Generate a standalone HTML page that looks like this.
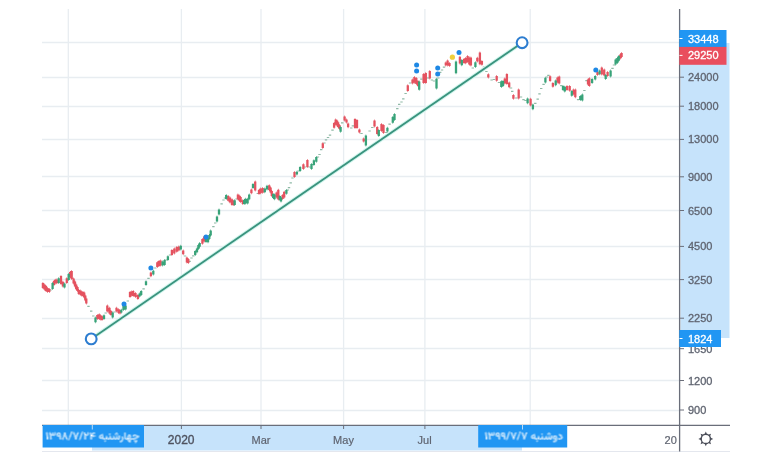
<!DOCTYPE html>
<html><head><meta charset="utf-8"><style>
html,body{margin:0;padding:0;background:#fff;width:767px;height:464px;overflow:hidden}
body{position:relative;font-family:"Liberation Sans",sans-serif}
</style></head><body>
<svg width="767" height="464" viewBox="0 0 767 464" style="position:absolute;left:0;top:0;filter:blur(0.3px)"><path d="M42 42.5H679.5M42 77.5H679.5M42 106.5H679.5M42 139.5H679.5M42 176.5H679.5M42 210.5H679.5M42 246.5H679.5M42 279.5H679.5M42 318.5H679.5M42 348.5H679.5M42 380.5H679.5M42 410.5H679.5M68.3 9V425M181.4 9V425M261 9V425M343.6 9V425M424.9 9V425M530.2 9V425" stroke="#e8edf1" stroke-width="1.3" fill="none"/><rect x="680.5" y="43" width="49" height="295" fill="#c6e3fb"/><rect x="92" y="426" width="430" height="24.5" fill="#c6e3fb"/><path d="M42 451.5H730" stroke="#e4e7ee" stroke-width="1"/><g style="filter:blur(0.35px)"><path d="M49.4 289.4h2.4v1.2h-2.4zM87.3 305.8h2.4v1.2h-2.4zM90.0 310.6h2.4v1.2h-2.4zM92.1 315.4h2.4v1.2h-2.4zM104.5 312.4h2.4v1.2h-2.4zM113.3 311.4h2.4v1.2h-2.4zM126.6 300.4h2.4v1.2h-2.4zM142.4 288.3h2.4v1.2h-2.4zM147.3 277.8h2.4v1.2h-2.4zM154.1 267.4h2.4v1.2h-2.4zM165.1 259.4h2.4v1.2h-2.4zM168.8 254.4h2.4v1.2h-2.4zM183.8 255.4h2.4v1.2h-2.4zM188.4 260.8h2.4v1.2h-2.4zM190.3 257.4h2.4v1.2h-2.4zM192.1 255.3h2.4v1.2h-2.4zM212.2 226.0h2.4v1.2h-2.4zM214.0 222.4h2.4v1.2h-2.4zM220.4 203.2h2.4v1.2h-2.4zM222.3 199.4h2.4v1.2h-2.4zM223.8 197.4h2.4v1.2h-2.4zM235.3 198.4h2.4v1.2h-2.4zM256.6 192.9h2.4v1.2h-2.4zM286.6 189.4h2.4v1.2h-2.4zM287.8 187.0h2.4v1.2h-2.4zM289.5 182.2h2.4v1.2h-2.4zM291.3 177.4h2.4v1.2h-2.4zM297.3 170.4h2.4v1.2h-2.4zM304.0 166.4h2.4v1.2h-2.4zM308.3 166.4h2.4v1.2h-2.4zM316.7 156.4h2.4v1.2h-2.4zM318.3 153.9h2.4v1.2h-2.4zM320.0 149.0h2.4v1.2h-2.4zM323.2 142.4h2.4v1.2h-2.4zM324.8 139.3h2.4v1.2h-2.4zM326.8 136.9h2.4v1.2h-2.4zM328.8 134.5h2.4v1.2h-2.4zM331.3 129.6h2.4v1.2h-2.4zM341.0 122.3h2.4v1.2h-2.4zM350.1 127.4h2.4v1.2h-2.4zM351.7 125.3h2.4v1.2h-2.4zM360.3 132.9h2.4v1.2h-2.4zM368.4 130.4h2.4v1.2h-2.4zM371.1 126.9h2.4v1.2h-2.4zM385.1 131.9h2.4v1.2h-2.4zM388.4 123.6h2.4v1.2h-2.4zM396.1 108.0h2.4v1.2h-2.4zM398.0 103.7h2.4v1.2h-2.4zM400.3 101.4h2.4v1.2h-2.4zM402.1 98.2h2.4v1.2h-2.4zM404.4 92.9h2.4v1.2h-2.4zM408.9 82.4h2.4v1.2h-2.4zM420.2 78.6h2.4v1.2h-2.4zM426.6 77.4h2.4v1.2h-2.4zM430.7 79.4h2.4v1.2h-2.4zM432.8 80.4h2.4v1.2h-2.4zM437.1 77.4h2.4v1.2h-2.4zM439.0 71.8h2.4v1.2h-2.4zM440.8 69.4h2.4v1.2h-2.4zM442.8 66.5h2.4v1.2h-2.4zM471.6 67.4h2.4v1.2h-2.4zM482.8 66.4h2.4v1.2h-2.4zM485.2 70.9h2.4v1.2h-2.4zM490.4 79.4h2.4v1.2h-2.4zM492.8 78.9h2.4v1.2h-2.4zM497.8 81.9h2.4v1.2h-2.4zM509.8 87.4h2.4v1.2h-2.4zM511.0 90.8h2.4v1.2h-2.4zM515.1 97.4h2.4v1.2h-2.4zM519.8 96.4h2.4v1.2h-2.4zM522.3 99.1h2.4v1.2h-2.4zM524.3 99.9h2.4v1.2h-2.4zM534.1 102.7h2.4v1.2h-2.4zM536.5 98.5h2.4v1.2h-2.4zM538.3 93.2h2.4v1.2h-2.4zM540.0 87.9h2.4v1.2h-2.4zM542.4 83.7h2.4v1.2h-2.4zM545.8 76.4h2.4v1.2h-2.4zM547.2 74.8h2.4v1.2h-2.4zM560.1 85.0h2.4v1.2h-2.4zM576.9 99.0h2.4v1.2h-2.4zM583.2 89.9h2.4v1.2h-2.4zM585.3 80.1h2.4v1.2h-2.4zM611.3 67.8h2.4v1.2h-2.4zM612.8 64.4h2.4v1.2h-2.4z" fill="#8fb9a6"/><path d="M41.75 283.1h2.3v4.8h-2.3zM42.60 282.1h0.6v6.8h-0.6zM43.35 284.6h2.3v4.8h-2.3zM44.20 283.6h0.6v6.8h-0.6zM44.85 286.1h2.3v4.8h-2.3zM45.70 285.1h0.6v6.8h-0.6zM46.55 288.1h2.3v3.8h-2.3zM47.40 287.1h0.6v5.8h-0.6zM48.15 289.1h2.3v2.8h-2.3zM49.00 288.1h0.6v4.8h-0.6zM52.85 281.1h2.3v3.8h-2.3zM53.70 280.1h0.6v5.8h-0.6zM54.05 279.7h2.3v3.8h-2.3zM54.90 278.7h0.6v5.8h-0.6zM55.65 279.4h2.3v3.8h-2.3zM56.50 278.4h0.6v5.8h-0.6zM59.85 276.1h2.3v7.8h-2.3zM60.70 275.1h0.6v9.8h-0.6zM61.75 281.8h2.3v4.8h-2.3zM62.60 280.8h0.6v6.8h-0.6zM65.65 278.2h2.3v4.8h-2.3zM66.50 277.2h0.6v6.8h-0.6zM69.05 272.1h2.3v4.8h-2.3zM69.90 271.1h0.6v6.8h-0.6zM70.55 271.1h2.3v7.8h-2.3zM71.40 270.1h0.6v9.8h-0.6zM72.45 278.6h2.3v4.8h-2.3zM73.30 277.6h0.6v6.8h-0.6zM73.85 281.6h2.3v4.8h-2.3zM74.70 280.6h0.6v6.8h-0.6zM75.05 284.4h2.3v4.8h-2.3zM75.90 283.4h0.6v6.8h-0.6zM76.35 287.1h2.3v3.8h-2.3zM77.20 286.1h0.6v5.8h-0.6zM77.65 290.1h2.3v3.8h-2.3zM78.50 289.1h0.6v5.8h-0.6zM79.05 290.6h2.3v3.8h-2.3zM79.90 289.6h0.6v5.8h-0.6zM80.35 291.6h2.3v3.8h-2.3zM81.20 290.6h0.6v5.8h-0.6zM81.85 292.1h2.3v3.8h-2.3zM82.70 291.1h0.6v5.8h-0.6zM83.05 292.6h2.3v4.8h-2.3zM83.90 291.6h0.6v6.8h-0.6zM84.15 295.6h2.3v4.8h-2.3zM85.00 294.6h0.6v6.8h-0.6zM85.15 298.6h2.3v4.8h-2.3zM86.00 297.6h0.6v6.8h-0.6zM96.15 315.1h2.3v3.8h-2.3zM97.00 314.1h0.6v5.8h-0.6zM98.05 314.2h2.3v4.8h-2.3zM98.90 313.2h0.6v6.8h-0.6zM99.45 315.6h2.3v3.8h-2.3zM100.30 314.6h0.6v5.8h-0.6zM100.85 316.3h2.3v3.8h-2.3zM101.70 315.3h0.6v5.8h-0.6zM106.15 305.6h2.3v5.8h-2.3zM107.00 304.6h0.6v7.8h-0.6zM108.35 307.8h2.3v5.8h-2.3zM109.20 306.8h0.6v7.8h-0.6zM109.85 311.1h2.3v3.8h-2.3zM110.70 310.1h0.6v5.8h-0.6zM115.35 307.7h2.3v3.8h-2.3zM116.20 306.7h0.6v5.8h-0.6zM117.45 309.3h2.3v3.8h-2.3zM118.30 308.3h0.6v5.8h-0.6zM118.85 310.6h2.3v2.8h-2.3zM119.70 309.6h0.6v4.8h-0.6zM128.85 292.1h2.3v4.8h-2.3zM129.70 291.1h0.6v6.8h-0.6zM130.45 291.6h2.3v3.8h-2.3zM131.30 290.6h0.6v5.8h-0.6zM132.05 291.1h2.3v4.8h-2.3zM132.90 290.1h0.6v6.8h-0.6zM134.35 293.1h2.3v3.8h-2.3zM135.20 292.1h0.6v5.8h-0.6zM136.75 295.1h2.3v3.8h-2.3zM137.60 294.1h0.6v5.8h-0.6zM149.75 272.4h2.3v3.8h-2.3zM150.60 271.4h0.6v5.8h-0.6zM156.15 262.2h2.3v4.8h-2.3zM157.00 261.2h0.6v6.8h-0.6zM157.85 261.1h2.3v4.8h-2.3zM158.70 260.1h0.6v6.8h-0.6zM159.45 260.6h2.3v4.8h-2.3zM160.30 259.6h0.6v6.8h-0.6zM170.75 250.1h2.3v4.8h-2.3zM171.60 249.1h0.6v6.8h-0.6zM173.15 248.6h2.3v4.8h-2.3zM174.00 247.6h0.6v6.8h-0.6zM175.65 246.9h2.3v4.8h-2.3zM176.50 245.9h0.6v6.8h-0.6zM177.65 246.6h2.3v3.8h-2.3zM178.50 245.6h0.6v5.8h-0.6zM182.05 250.4h2.3v3.8h-2.3zM182.90 249.4h0.6v5.8h-0.6zM185.75 257.6h2.3v4.8h-2.3zM186.60 256.6h0.6v6.8h-0.6zM187.15 259.1h2.3v3.8h-2.3zM188.00 258.1h0.6v5.8h-0.6zM201.25 238.9h2.3v4.8h-2.3zM202.10 237.9h0.6v6.8h-0.6zM203.05 236.6h2.3v4.8h-2.3zM203.90 235.6h0.6v6.8h-0.6zM227.05 196.0h2.3v4.8h-2.3zM227.90 195.0h0.6v6.8h-0.6zM228.85 197.6h2.3v4.8h-2.3zM229.70 196.6h0.6v6.8h-0.6zM230.85 199.3h2.3v5.8h-2.3zM231.70 198.3h0.6v7.8h-0.6zM232.35 201.1h2.3v3.8h-2.3zM233.20 200.1h0.6v5.8h-0.6zM236.75 194.4h2.3v4.8h-2.3zM237.60 193.4h0.6v6.8h-0.6zM238.05 195.6h2.3v4.8h-2.3zM238.90 194.6h0.6v6.8h-0.6zM239.45 197.1h2.3v4.8h-2.3zM240.30 196.1h0.6v6.8h-0.6zM241.65 200.3h2.3v3.8h-2.3zM242.50 199.3h0.6v5.8h-0.6zM250.25 189.5h2.3v3.8h-2.3zM251.10 188.5h0.6v5.8h-0.6zM254.05 181.6h2.3v8.8h-2.3zM254.90 180.6h0.6v10.8h-0.6zM257.85 190.1h2.3v3.8h-2.3zM258.70 189.1h0.6v5.8h-0.6zM259.35 188.4h2.3v4.8h-2.3zM260.20 187.4h0.6v6.8h-0.6zM261.55 187.9h2.3v4.8h-2.3zM262.40 186.9h0.6v6.8h-0.6zM268.05 185.2h2.3v4.8h-2.3zM268.90 184.2h0.6v6.8h-0.6zM269.45 187.6h2.3v4.8h-2.3zM270.30 186.6h0.6v6.8h-0.6zM270.65 191.1h2.3v4.8h-2.3zM271.50 190.1h0.6v6.8h-0.6zM275.35 192.6h2.3v4.8h-2.3zM276.20 191.6h0.6v6.8h-0.6zM277.15 189.7h2.3v9.8h-2.3zM278.00 188.7h0.6v11.8h-0.6zM281.45 195.1h2.3v3.8h-2.3zM282.30 194.1h0.6v5.8h-0.6zM283.05 191.7h2.3v5.8h-2.3zM283.90 190.7h0.6v7.8h-0.6zM293.35 172.1h2.3v4.8h-2.3zM294.20 171.1h0.6v6.8h-0.6zM302.25 164.2h2.3v4.8h-2.3zM303.10 163.2h0.6v6.8h-0.6zM306.25 160.1h2.3v6.8h-2.3zM307.10 159.1h0.6v8.8h-0.6zM321.65 143.2h2.3v4.8h-2.3zM322.50 142.2h0.6v6.8h-0.6zM332.95 123.0h2.3v4.8h-2.3zM333.80 122.0h0.6v6.8h-0.6zM334.55 119.6h2.3v4.8h-2.3zM335.40 118.6h0.6v6.8h-0.6zM335.85 120.6h2.3v4.8h-2.3zM336.70 119.6h0.6v6.8h-0.6zM336.95 122.2h2.3v4.8h-2.3zM337.80 121.2h0.6v6.8h-0.6zM338.35 125.1h2.3v3.8h-2.3zM339.20 124.1h0.6v5.8h-0.6zM343.45 116.6h2.3v3.8h-2.3zM344.30 115.6h0.6v5.8h-0.6zM345.35 119.6h2.3v2.8h-2.3zM346.20 118.6h0.6v4.8h-0.6zM346.95 123.4h2.3v3.8h-2.3zM347.80 122.4h0.6v5.8h-0.6zM353.85 119.1h2.3v8.8h-2.3zM354.70 118.1h0.6v10.8h-0.6zM355.85 120.1h2.3v7.8h-2.3zM356.70 119.1h0.6v9.8h-0.6zM358.25 129.6h2.3v2.8h-2.3zM359.10 128.6h0.6v4.8h-0.6zM362.55 138.6h2.3v2.8h-2.3zM363.40 137.6h0.6v4.8h-0.6zM373.35 120.6h2.3v5.8h-2.3zM374.20 119.6h0.6v7.8h-0.6zM376.05 127.1h2.3v6.8h-2.3zM376.90 126.1h0.6v8.8h-0.6zM380.35 124.1h2.3v6.8h-2.3zM381.20 123.1h0.6v8.8h-0.6zM382.35 125.1h2.3v7.8h-2.3zM383.20 124.1h0.6v9.8h-0.6zM406.65 85.3h2.3v5.8h-2.3zM407.50 84.3h0.6v7.8h-0.6zM411.35 79.6h2.3v3.8h-2.3zM412.20 78.6h0.6v5.8h-0.6zM413.25 76.9h2.3v5.8h-2.3zM414.10 75.9h0.6v7.8h-0.6zM415.15 78.1h2.3v5.8h-2.3zM416.00 77.1h0.6v7.8h-0.6zM416.85 81.1h2.3v4.8h-2.3zM417.70 80.1h0.6v6.8h-0.6zM422.45 74.1h2.3v8.8h-2.3zM423.30 73.1h0.6v10.8h-0.6zM424.65 73.1h2.3v9.8h-2.3zM425.50 72.1h0.6v11.8h-0.6zM428.65 71.1h2.3v7.3h-2.3zM429.50 70.1h0.6v9.3h-0.6zM444.65 62.6h2.3v2.8h-2.3zM445.50 61.6h0.6v4.8h-0.6zM446.45 60.6h2.3v4.8h-2.3zM447.30 59.6h0.6v6.8h-0.6zM448.35 63.1h2.3v2.8h-2.3zM449.20 62.1h0.6v4.8h-0.6zM458.75 56.8h2.3v6.8h-2.3zM459.60 55.8h0.6v8.8h-0.6zM462.85 59.1h2.3v3.8h-2.3zM463.70 58.1h0.6v5.8h-0.6zM464.55 57.9h2.3v5.3h-2.3zM465.40 56.9h0.6v7.3h-0.6zM466.45 56.1h2.3v5.8h-2.3zM467.30 55.1h0.6v7.8h-0.6zM468.15 57.6h2.3v6.8h-2.3zM469.00 56.6h0.6v8.8h-0.6zM469.75 57.6h2.3v7.8h-2.3zM470.60 56.6h0.6v9.8h-0.6zM476.15 57.7h2.3v3.8h-2.3zM477.00 56.7h0.6v5.8h-0.6zM478.75 52.4h2.3v11.8h-2.3zM479.60 51.4h0.6v13.8h-0.6zM480.75 60.9h2.3v3.8h-2.3zM481.60 59.9h0.6v5.8h-0.6zM487.15 74.3h2.3v3.3h-2.3zM488.00 73.3h0.6v5.3h-0.6zM495.55 75.9h2.3v4.8h-2.3zM496.40 74.9h0.6v6.8h-0.6zM503.65 78.6h2.3v4.8h-2.3zM504.50 77.6h0.6v6.8h-0.6zM505.75 74.1h2.3v9.8h-2.3zM506.60 73.1h0.6v11.8h-0.6zM508.05 82.5h2.3v4.8h-2.3zM508.90 81.5h0.6v6.8h-0.6zM512.25 94.9h2.3v3.8h-2.3zM513.10 93.9h0.6v5.8h-0.6zM517.55 89.6h2.3v8.8h-2.3zM518.40 88.6h0.6v10.8h-0.6zM529.45 98.7h2.3v6.8h-2.3zM530.30 97.7h0.6v8.8h-0.6zM548.95 76.2h2.3v4.8h-2.3zM549.80 75.2h0.6v6.8h-0.6zM551.75 83.0h2.3v3.8h-2.3zM552.60 82.0h0.6v5.8h-0.6zM556.35 77.6h2.3v4.8h-2.3zM557.20 76.6h0.6v6.8h-0.6zM558.05 76.6h2.3v6.8h-2.3zM558.90 75.6h0.6v8.8h-0.6zM565.85 86.1h2.3v3.8h-2.3zM566.70 85.1h0.6v5.8h-0.6zM568.55 86.0h2.3v4.8h-2.3zM569.40 85.0h0.6v6.8h-0.6zM572.35 89.6h2.3v4.8h-2.3zM573.20 88.6h0.6v6.8h-0.6zM574.15 89.4h2.3v7.8h-2.3zM575.00 88.4h0.6v9.8h-0.6zM586.85 79.6h2.3v4.8h-2.3zM587.70 78.6h0.6v6.8h-0.6zM588.15 78.2h2.3v7.8h-2.3zM589.00 77.2h0.6v9.8h-0.6zM596.35 72.1h2.3v2.8h-2.3zM597.20 71.1h0.6v4.8h-0.6zM600.65 67.6h2.3v6.8h-2.3zM601.50 66.6h0.6v8.8h-0.6zM603.05 69.6h2.3v5.8h-2.3zM603.90 68.6h0.6v7.8h-0.6zM606.45 72.1h2.3v3.8h-2.3zM607.30 71.1h0.6v5.8h-0.6zM619.15 54.6h2.3v3.8h-2.3zM620.00 53.6h0.6v5.8h-0.6zM620.45 53.1h2.3v3.8h-2.3zM621.30 52.1h0.6v5.8h-0.6z" fill="#e4525f"/><path d="M51.45 283.1h2.3v5.8h-2.3zM52.30 282.1h0.6v7.8h-0.6zM57.55 278.2h2.3v4.8h-2.3zM58.40 277.2h0.6v6.8h-0.6zM63.35 283.6h2.3v3.8h-2.3zM64.20 282.6h0.6v5.8h-0.6zM67.55 274.1h2.3v5.8h-2.3zM68.40 273.1h0.6v7.8h-0.6zM94.35 317.5h2.3v4.8h-2.3zM95.20 316.5h0.6v6.8h-0.6zM102.85 315.3h2.3v3.8h-2.3zM103.70 314.3h0.6v5.8h-0.6zM111.55 312.6h2.3v4.8h-2.3zM112.40 311.6h0.6v6.8h-0.6zM120.15 309.8h2.3v2.8h-2.3zM121.00 308.8h0.6v4.8h-0.6zM122.35 306.1h2.3v3.8h-2.3zM123.20 305.1h0.6v5.8h-0.6zM124.45 305.6h2.3v3.8h-2.3zM125.30 304.6h0.6v5.8h-0.6zM138.45 293.6h2.3v2.8h-2.3zM139.30 292.6h0.6v4.8h-0.6zM140.05 291.1h2.3v3.8h-2.3zM140.90 290.1h0.6v5.8h-0.6zM144.85 281.3h2.3v3.8h-2.3zM145.70 280.3h0.6v5.8h-0.6zM152.15 270.8h2.3v3.8h-2.3zM153.00 269.8h0.6v5.8h-0.6zM161.45 261.6h2.3v3.8h-2.3zM162.30 260.6h0.6v5.8h-0.6zM163.45 260.1h2.3v4.8h-2.3zM164.30 259.1h0.6v6.8h-0.6zM166.75 256.3h2.3v3.8h-2.3zM167.60 255.3h0.6v5.8h-0.6zM179.65 245.7h2.3v3.8h-2.3zM180.50 244.7h0.6v5.8h-0.6zM194.05 251.1h2.3v3.8h-2.3zM194.90 250.1h0.6v5.8h-0.6zM195.85 248.5h2.3v3.8h-2.3zM196.70 247.5h0.6v5.8h-0.6zM197.25 245.1h2.3v3.8h-2.3zM198.10 244.1h0.6v5.8h-0.6zM198.55 243.0h2.3v3.8h-2.3zM199.40 242.0h0.6v5.8h-0.6zM204.85 238.1h2.3v3.8h-2.3zM205.70 237.1h0.6v5.8h-0.6zM206.85 238.5h2.3v3.8h-2.3zM207.70 237.5h0.6v5.8h-0.6zM208.15 235.1h2.3v3.8h-2.3zM209.00 234.1h0.6v5.8h-0.6zM209.55 230.6h2.3v4.8h-2.3zM210.40 229.6h0.6v6.8h-0.6zM215.85 216.6h2.3v4.8h-2.3zM216.70 215.6h0.6v6.8h-0.6zM217.85 209.6h2.3v4.8h-2.3zM218.70 208.6h0.6v6.8h-0.6zM225.05 195.1h2.3v3.8h-2.3zM225.90 194.1h0.6v5.8h-0.6zM233.55 200.3h2.3v4.8h-2.3zM234.40 199.3h0.6v6.8h-0.6zM243.05 200.1h2.3v3.8h-2.3zM243.90 199.1h0.6v5.8h-0.6zM244.35 198.7h2.3v4.8h-2.3zM245.20 197.7h0.6v6.8h-0.6zM246.45 198.7h2.3v4.8h-2.3zM247.30 197.7h0.6v6.8h-0.6zM248.05 194.4h2.3v4.8h-2.3zM248.90 193.4h0.6v6.8h-0.6zM251.85 184.1h2.3v3.8h-2.3zM252.70 183.1h0.6v5.8h-0.6zM263.65 188.4h2.3v3.8h-2.3zM264.50 187.4h0.6v5.8h-0.6zM265.85 185.7h2.3v3.8h-2.3zM266.70 184.7h0.6v5.8h-0.6zM272.05 194.1h2.3v3.8h-2.3zM272.90 193.1h0.6v5.8h-0.6zM273.35 194.4h2.3v4.8h-2.3zM274.20 193.4h0.6v6.8h-0.6zM278.65 196.1h2.3v3.8h-2.3zM279.50 195.1h0.6v5.8h-0.6zM279.85 197.6h2.3v3.8h-2.3zM280.70 196.6h0.6v5.8h-0.6zM285.25 190.0h2.3v3.8h-2.3zM286.10 189.0h0.6v5.8h-0.6zM295.75 171.7h2.3v2.8h-2.3zM296.60 170.7h0.6v4.8h-0.6zM298.95 167.1h2.3v3.8h-2.3zM299.80 166.1h0.6v5.8h-0.6zM310.35 164.1h2.3v4.8h-2.3zM311.20 163.1h0.6v6.8h-0.6zM312.75 160.2h2.3v4.8h-2.3zM313.60 159.2h0.6v6.8h-0.6zM315.15 156.9h2.3v4.8h-2.3zM316.00 155.9h0.6v6.8h-0.6zM339.45 127.0h2.3v4.8h-2.3zM340.30 126.0h0.6v6.8h-0.6zM364.75 135.6h2.3v9.8h-2.3zM365.60 134.6h0.6v11.8h-0.6zM377.65 130.1h2.3v5.8h-2.3zM378.50 129.1h0.6v7.8h-0.6zM386.25 127.7h2.3v3.8h-2.3zM387.10 126.7h0.6v5.8h-0.6zM391.65 117.0h2.3v5.8h-2.3zM392.50 116.0h0.6v7.8h-0.6zM393.35 114.1h2.3v5.8h-2.3zM394.20 113.1h0.6v7.8h-0.6zM418.05 81.4h2.3v8.3h-2.3zM418.90 80.4h0.6v10.3h-0.6zM435.35 78.8h2.3v9.8h-2.3zM436.20 77.8h0.6v11.8h-0.6zM454.85 61.4h2.3v11.8h-2.3zM455.70 60.4h0.6v13.8h-0.6zM460.65 59.9h2.3v5.3h-2.3zM461.50 58.9h0.6v7.3h-0.6zM474.25 62.3h2.3v4.8h-2.3zM475.10 61.3h0.6v6.8h-0.6zM500.15 81.2h2.3v5.8h-2.3zM501.00 80.2h0.6v7.8h-0.6zM501.85 81.1h2.3v4.8h-2.3zM502.70 80.1h0.6v6.8h-0.6zM526.45 98.5h2.3v4.8h-2.3zM527.30 97.5h0.6v6.8h-0.6zM531.75 104.4h2.3v4.8h-2.3zM532.60 103.4h0.6v6.8h-0.6zM544.25 77.8h2.3v4.8h-2.3zM545.10 76.8h0.6v6.8h-0.6zM554.55 80.4h2.3v4.8h-2.3zM555.40 79.4h0.6v6.8h-0.6zM561.85 86.1h2.3v3.8h-2.3zM562.70 85.1h0.6v5.8h-0.6zM563.65 86.7h2.3v4.8h-2.3zM564.50 85.7h0.6v6.8h-0.6zM570.65 90.9h2.3v4.8h-2.3zM571.50 89.9h0.6v6.8h-0.6zM579.15 96.1h2.3v3.8h-2.3zM580.00 95.1h0.6v5.8h-0.6zM581.15 94.6h2.3v5.8h-2.3zM582.00 93.6h0.6v7.8h-0.6zM590.95 79.1h2.3v3.8h-2.3zM591.80 78.1h0.6v5.8h-0.6zM594.05 76.1h2.3v3.3h-2.3zM594.90 75.1h0.6v5.3h-0.6zM598.45 70.5h2.3v3.8h-2.3zM599.30 69.5h0.6v5.8h-0.6zM604.55 75.1h2.3v3.8h-2.3zM605.40 74.1h0.6v5.8h-0.6zM609.45 70.6h2.3v5.8h-2.3zM610.30 69.6h0.6v7.8h-0.6zM614.45 59.6h2.3v4.8h-2.3zM615.30 58.6h0.6v6.8h-0.6zM616.15 58.1h2.3v4.8h-2.3zM617.00 57.1h0.6v6.8h-0.6zM617.65 55.9h2.3v4.8h-2.3zM618.50 54.9h0.6v6.8h-0.6z" fill="#38a379"/></g><circle cx="124" cy="304" r="2.5" fill="#1e88e5"/><circle cx="150.9" cy="268" r="2.5" fill="#1e88e5"/><circle cx="206" cy="237" r="2.5" fill="#1e88e5"/><circle cx="416.6" cy="65" r="2.5" fill="#1e88e5"/><circle cx="416.6" cy="71" r="2.5" fill="#1e88e5"/><circle cx="437.7" cy="68" r="2.5" fill="#1e88e5"/><circle cx="437.7" cy="74" r="2.5" fill="#1e88e5"/><circle cx="459" cy="52.5" r="2.5" fill="#1e88e5"/><circle cx="595.8" cy="70" r="2.5" fill="#1e88e5"/><circle cx="452.4" cy="57.2" r="2.6" fill="#f0cf3a"/><line x1="91.2" y1="338.9" x2="522.1" y2="42.7" stroke="#d3f6ee" stroke-width="3.8"/><line x1="91.2" y1="338.9" x2="522.1" y2="42.7" stroke="#3a937e" stroke-width="1.8"/><circle cx="91.2" cy="338.9" r="5.4" fill="#fff" stroke="#2d7dd0" stroke-width="2.1"/><circle cx="522.1" cy="42.7" r="5.4" fill="#fff" stroke="#2d7dd0" stroke-width="2.1"/><path d="M679.6 9V451.5" stroke="#6a6e7a" stroke-width="1.3" fill="none"/><path d="M42 425.3H730" stroke="#6a6e7a" stroke-width="1.3" fill="none"/><path d="M680 77.2H684M680 106.2H684M680 139.4H684M680 176.8H684M680 210.5H684M680 246.4H684M680 279.6H684M680 318.2H684M680 380.5H684M680 410H684M680 348.7H684M68.3 425V429M181.4 425V429M261 425V429M343.6 425V429M424.9 425V429M530.2 425V429" stroke="#6a6e7a" stroke-width="1" fill="none"/><g font-family="Liberation Sans, sans-serif" font-size="11" fill="#5f6470" stroke="#5f6470" stroke-width="0.3"><text x="688" y="352.7">1650</text><text x="688" y="81.2">24000</text><text x="688" y="110.2">18000</text><text x="688" y="143.4">13000</text><text x="688" y="180.8">9000</text><text x="688" y="214.5">6500</text><text x="688" y="250.4">4500</text><text x="688" y="283.6">3250</text><text x="688" y="322.2">2250</text><text x="688" y="384.5">1200</text><text x="688" y="414.0">900</text></g><rect x="679.3" y="30" width="47.2" height="17" fill="#2196f3"/><path d="M679.5 38.5H682.5" stroke="#fff" stroke-width="1"/><text x="688" y="42.5" font-family="Liberation Sans, sans-serif" font-size="11" fill="#fff" stroke="#fff" stroke-width="0.3">33448</text><rect x="679.3" y="46.9" width="47.2" height="17.9" fill="#e94e5e"/><path d="M679.5 55.4H682.5" stroke="#fff" stroke-width="1"/><text x="688" y="59.4" font-family="Liberation Sans, sans-serif" font-size="11" fill="#fff" stroke="#fff" stroke-width="0.3">29250</text><rect x="679.3" y="330" width="41.7" height="17" fill="#2196f3"/><path d="M679.5 338.5H682.5" stroke="#fff" stroke-width="1"/><text x="688" y="342.5" font-family="Liberation Sans, sans-serif" font-size="11" fill="#fff" stroke="#fff" stroke-width="0.3">1824</text><g font-family="Liberation Sans, sans-serif" font-size="11" fill="#5f6470" stroke="#5f6470" stroke-width="0.2" text-anchor="middle"><text x="181.2" y="444.2" font-size="12" fill="#4f5360" stroke="#4f5360" stroke-width="0.35">2020</text><text x="261" y="444">Mar</text><text x="343.5" y="444">May</text><text x="424.6" y="444">Jul</text><text x="676.8" y="444" text-anchor="end">20</text></g><rect x="42.6" y="425" width="101.4" height="22.5" fill="#2196f3"/><g transform="translate(45.5,431.5)"><path d="M1 0h1v1h-1zM4 0h1v1h-1zM9 0h1v1h-1zM27 0h2v1h-2zM32 0h1v1h-1zM42 0h1v1h-1zM2 1h2v1h-2zM5 1h2v1h-2zM8 1h1v1h-1zM10 1h2v1h-2zM20 1h1v1h-1zM29 1h1v1h-1zM31 1h1v1h-1zM33 1h1v1h-1zM35 1h1v1h-1zM37 1h1v1h-1zM41 1h1v1h-1zM43 1h1v1h-1zM46 1h1v1h-1zM78 1h1v1h-1zM80 1h1v1h-1zM0 2h1v1h-1zM2 2h2v1h-2zM8 2h1v1h-1zM10 2h1v1h-1zM15 2h1v1h-1zM20 2h1v1h-1zM24 2h1v1h-1zM26 2h2v1h-2zM40 2h2v1h-2zM43 2h1v1h-1zM48 2h2v1h-2zM56 2h2v1h-2zM65 2h1v1h-1zM78 2h1v1h-1zM80 2h1v1h-1zM0 3h1v1h-1zM10 3h1v1h-1zM13 3h1v1h-1zM15 3h1v1h-1zM17 3h1v1h-1zM30 3h1v1h-1zM32 3h1v1h-1zM38 3h1v1h-1zM44 3h1v1h-1zM54 3h1v1h-1zM63 3h2v1h-2zM69 3h4v1h-4zM78 3h1v1h-1zM80 3h1v1h-1zM82 3h1v1h-1zM85 3h1v1h-1zM87 3h1v1h-1zM91 3h1v1h-1zM6 4h1v1h-1zM8 4h1v1h-1zM17 4h1v1h-1zM21 4h1v1h-1zM23 4h1v1h-1zM28 4h1v1h-1zM32 4h1v1h-1zM34 4h1v1h-1zM36 4h1v1h-1zM38 4h1v1h-1zM41 4h1v1h-1zM44 4h1v1h-1zM50 4h1v1h-1zM53 4h1v1h-1zM60 4h2v1h-2zM65 4h1v1h-1zM67 4h2v1h-2zM70 4h3v1h-3zM78 4h1v1h-1zM80 4h1v1h-1zM13 5h1v1h-1zM19 5h1v1h-1zM21 5h1v1h-1zM23 5h1v1h-1zM25 5h1v1h-1zM28 5h1v1h-1zM38 5h1v1h-1zM44 5h1v1h-1zM47 5h2v1h-2zM55 5h1v1h-1zM63 5h1v1h-1zM67 5h1v1h-1zM69 5h2v1h-2zM72 5h1v1h-1zM78 5h1v1h-1zM80 5h2v1h-2zM83 5h1v1h-1zM90 5h1v1h-1zM6 6h1v1h-1zM13 6h1v1h-1zM16 6h1v1h-1zM18 6h1v1h-1zM31 6h1v1h-1zM38 6h1v1h-1zM44 6h1v1h-1zM53 6h1v1h-1zM59 6h1v1h-1zM66 6h1v1h-1zM78 6h1v1h-1zM85 6h3v1h-3zM92 6h1v1h-1zM6 7h1v1h-1zM18 7h1v1h-1zM20 7h1v1h-1zM22 7h1v1h-1zM24 7h1v1h-1zM31 7h1v1h-1zM33 7h1v1h-1zM35 7h1v1h-1zM38 7h1v1h-1zM44 7h1v1h-1zM55 7h2v1h-2zM74 7h1v1h-1zM78 7h1v1h-1zM90 7h1v1h-1zM17 8h1v1h-1zM21 8h2v1h-2zM33 8h2v1h-2zM81 8h1v1h-1zM88 8h4v1h-4zM58 9h1v1h-1zM77 9h1v1h-1zM85 9h1v1h-1zM59 10h1v1h-1zM76 10h1v1h-1zM85 10h1v1h-1zM91 10h1v1h-1zM89 11h2v1h-2z" fill="#fff" fill-opacity="0.25"/><path d="M25 0h1v1h-1zM36 0h2v1h-2zM0 1h1v1h-1zM14 1h1v1h-1zM18 1h1v1h-1zM26 1h2v1h-2zM44 1h2v1h-2zM49 1h1v1h-1zM70 1h1v1h-1zM6 2h1v1h-1zM13 2h1v1h-1zM18 2h1v1h-1zM29 2h1v1h-1zM35 2h1v1h-1zM38 2h1v1h-1zM44 2h1v1h-1zM63 2h1v1h-1zM69 2h1v1h-1zM71 2h2v1h-2zM2 3h1v1h-1zM12 3h1v1h-1zM20 3h1v1h-1zM24 3h1v1h-1zM28 3h1v1h-1zM36 3h1v1h-1zM47 3h1v1h-1zM57 3h1v1h-1zM90 3h1v1h-1zM2 4h1v1h-1zM4 4h1v1h-1zM11 4h1v1h-1zM15 4h1v1h-1zM25 4h1v1h-1zM40 4h1v1h-1zM56 4h1v1h-1zM64 4h1v1h-1zM74 4h1v1h-1zM85 4h1v1h-1zM89 4h1v1h-1zM93 4h1v1h-1zM4 5h1v1h-1zM15 5h1v1h-1zM17 5h1v1h-1zM31 5h1v1h-1zM34 5h1v1h-1zM40 5h1v1h-1zM46 5h1v1h-1zM53 5h1v1h-1zM56 5h1v1h-1zM60 5h1v1h-1zM65 5h1v1h-1zM74 5h1v1h-1zM77 5h1v1h-1zM85 5h1v1h-1zM93 5h1v1h-1zM4 6h1v1h-1zM15 6h1v1h-1zM23 6h2v1h-2zM29 6h1v1h-1zM35 6h1v1h-1zM40 6h1v1h-1zM46 6h1v1h-1zM58 6h1v1h-1zM62 6h2v1h-2zM67 6h1v1h-1zM69 6h2v1h-2zM72 6h1v1h-1zM74 6h1v1h-1zM76 6h1v1h-1zM80 6h2v1h-2zM88 6h1v1h-1zM4 7h1v1h-1zM15 7h2v1h-2zM29 7h1v1h-1zM40 7h1v1h-1zM46 7h1v1h-1zM76 7h1v1h-1zM79 7h1v1h-1zM23 8h1v1h-1zM77 8h1v1h-1zM83 8h1v1h-1zM85 8h1v1h-1zM60 9h1v1h-1zM74 9h1v1h-1zM82 9h1v1h-1zM88 9h1v1h-1zM74 10h1v1h-1zM83 10h1v1h-1zM89 10h1v1h-1z" fill="#fff" fill-opacity="0.5"/><path d="M26 0h1v1h-1zM1 1h1v1h-1zM4 1h1v1h-1zM7 1h1v1h-1zM9 1h1v1h-1zM12 1h1v1h-1zM25 1h1v1h-1zM28 1h1v1h-1zM32 1h1v1h-1zM36 1h1v1h-1zM38 1h2v1h-2zM42 1h1v1h-1zM47 1h1v1h-1zM71 1h1v1h-1zM79 1h1v1h-1zM1 2h1v1h-1zM4 2h2v1h-2zM7 2h1v1h-1zM9 2h1v1h-1zM11 2h2v1h-2zM25 2h1v1h-1zM28 2h1v1h-1zM31 2h2v1h-2zM36 2h1v1h-1zM42 2h1v1h-1zM45 2h3v1h-3zM64 2h1v1h-1zM70 2h1v1h-1zM79 2h1v1h-1zM1 3h1v1h-1zM4 3h1v1h-1zM9 3h1v1h-1zM11 3h1v1h-1zM14 3h1v1h-1zM18 3h1v1h-1zM25 3h1v1h-1zM29 3h1v1h-1zM31 3h1v1h-1zM35 3h1v1h-1zM42 3h1v1h-1zM55 3h1v1h-1zM79 3h1v1h-1zM84 3h1v1h-1zM88 3h1v1h-1zM1 4h1v1h-1zM5 4h1v1h-1zM18 4h3v1h-3zM24 4h1v1h-1zM29 4h3v1h-3zM35 4h1v1h-1zM39 4h1v1h-1zM49 4h1v1h-1zM55 4h1v1h-1zM57 4h1v1h-1zM73 4h1v1h-1zM79 4h1v1h-1zM82 4h3v1h-3zM87 4h2v1h-2zM90 4h1v1h-1zM92 4h1v1h-1zM1 5h2v1h-2zM5 5h1v1h-1zM14 5h1v1h-1zM18 5h1v1h-1zM20 5h1v1h-1zM24 5h1v1h-1zM29 5h1v1h-1zM35 5h1v1h-1zM39 5h1v1h-1zM45 5h1v1h-1zM54 5h1v1h-1zM57 5h1v1h-1zM61 5h1v1h-1zM64 5h1v1h-1zM68 5h1v1h-1zM71 5h1v1h-1zM73 5h1v1h-1zM76 5h1v1h-1zM79 5h1v1h-1zM82 5h1v1h-1zM84 5h1v1h-1zM91 5h1v1h-1zM1 6h2v1h-2zM5 6h1v1h-1zM14 6h1v1h-1zM17 6h1v1h-1zM20 6h2v1h-2zM34 6h1v1h-1zM39 6h1v1h-1zM45 6h1v1h-1zM60 6h2v1h-2zM65 6h1v1h-1zM73 6h1v1h-1zM77 6h1v1h-1zM83 6h1v1h-1zM89 6h1v1h-1zM91 6h1v1h-1zM1 7h2v1h-2zM5 7h1v1h-1zM14 7h1v1h-1zM17 7h1v1h-1zM21 7h1v1h-1zM23 7h1v1h-1zM34 7h1v1h-1zM39 7h1v1h-1zM45 7h1v1h-1zM57 7h1v1h-1zM60 7h2v1h-2zM64 7h1v1h-1zM68 7h1v1h-1zM71 7h1v1h-1zM77 7h1v1h-1zM84 7h1v1h-1zM89 7h1v1h-1zM76 8h1v1h-1zM82 8h1v1h-1zM84 8h1v1h-1zM59 9h1v1h-1zM75 9h1v1h-1zM89 9h3v1h-3zM75 10h1v1h-1zM84 10h1v1h-1zM90 10h1v1h-1z" fill="#fff" fill-opacity="0.75"/><path d="M13 1h1v1h-1zM19 1h1v1h-1zM48 1h1v1h-1zM14 2h1v1h-1zM19 2h1v1h-1zM39 2h1v1h-1zM5 3h4v1h-4zM19 3h1v1h-1zM39 3h3v1h-3zM45 3h2v1h-2zM56 3h1v1h-1zM83 3h1v1h-1zM89 3h1v1h-1zM12 4h3v1h-3zM45 4h4v1h-4zM54 4h1v1h-1zM91 4h1v1h-1zM30 5h1v1h-1zM92 5h1v1h-1zM30 6h1v1h-1zM54 6h4v1h-4zM64 6h1v1h-1zM68 6h1v1h-1zM71 6h1v1h-1zM79 6h1v1h-1zM82 6h1v1h-1zM84 6h1v1h-1zM90 6h1v1h-1zM30 7h1v1h-1zM58 7h2v1h-2zM62 7h2v1h-2zM65 7h3v1h-3zM69 7h2v1h-2zM72 7h2v1h-2zM80 7h4v1h-4zM85 7h4v1h-4zM76 9h1v1h-1zM83 9h2v1h-2z" fill="#fff" fill-opacity="1.0"/></g><path d="M92.3 425V429.5" stroke="#bcdcf8" stroke-width="1"/><rect x="478.2" y="425" width="89.00000000000006" height="22.5" fill="#2196f3"/><g transform="translate(484.5,431.5)"><path d="M1 0h1v1h-1zM4 0h1v1h-1zM9 0h1v1h-1zM34 0h1v1h-1zM36 0h1v1h-1zM2 1h2v1h-2zM5 1h2v1h-2zM8 1h1v1h-1zM10 1h2v1h-2zM16 1h1v1h-1zM20 1h1v1h-1zM23 1h1v1h-1zM25 1h1v1h-1zM32 1h1v1h-1zM34 1h1v1h-1zM36 1h1v1h-1zM63 1h1v1h-1zM65 1h1v1h-1zM0 2h1v1h-1zM2 2h2v1h-2zM8 2h1v1h-1zM10 2h1v1h-1zM15 2h1v1h-1zM26 2h1v1h-1zM28 2h2v1h-2zM39 2h2v1h-2zM42 2h1v1h-1zM49 2h2v1h-2zM56 2h1v1h-1zM58 2h1v1h-1zM62 2h1v1h-1zM66 2h1v1h-1zM74 2h2v1h-2zM0 3h1v1h-1zM10 3h1v1h-1zM13 3h1v1h-1zM15 3h1v1h-1zM18 3h1v1h-1zM26 3h1v1h-1zM29 3h1v1h-1zM31 3h1v1h-1zM33 3h1v1h-1zM35 3h1v1h-1zM37 3h1v1h-1zM39 3h1v1h-1zM47 3h1v1h-1zM57 3h1v1h-1zM63 3h3v1h-3zM77 3h1v1h-1zM6 4h1v1h-1zM8 4h1v1h-1zM16 4h1v1h-1zM22 4h1v1h-1zM24 4h1v1h-1zM33 4h1v1h-1zM46 4h1v1h-1zM53 4h2v1h-2zM57 4h2v1h-2zM61 4h2v1h-2zM64 4h2v1h-2zM68 4h1v1h-1zM72 4h1v1h-1zM13 5h1v1h-1zM18 5h1v1h-1zM27 5h1v1h-1zM30 5h1v1h-1zM38 5h1v1h-1zM41 5h1v1h-1zM48 5h1v1h-1zM60 5h1v1h-1zM63 5h1v1h-1zM65 5h1v1h-1zM78 5h1v1h-1zM6 6h1v1h-1zM13 6h1v1h-1zM21 6h1v1h-1zM30 6h1v1h-1zM32 6h1v1h-1zM34 6h1v1h-1zM38 6h1v1h-1zM46 6h1v1h-1zM52 6h1v1h-1zM55 6h1v1h-1zM59 6h1v1h-1zM70 6h1v1h-1zM73 6h3v1h-3zM78 6h1v1h-1zM6 7h1v1h-1zM21 7h1v1h-1zM23 7h1v1h-1zM38 7h1v1h-1zM48 7h2v1h-2zM67 7h2v1h-2zM77 7h1v1h-1zM21 8h2v1h-2zM32 8h2v1h-2zM70 8h1v1h-1zM51 9h1v1h-1zM68 9h1v1h-1zM72 9h1v1h-1zM52 10h1v1h-1zM68 10h1v1h-1zM71 10h1v1h-1z" fill="#fff" fill-opacity="0.25"/><path d="M24 0h2v1h-2zM0 1h1v1h-1zM14 1h1v1h-1zM30 1h1v1h-1zM38 1h1v1h-1zM6 2h1v1h-1zM13 2h1v1h-1zM16 2h1v1h-1zM18 2h1v1h-1zM20 2h1v1h-1zM23 2h1v1h-1zM31 2h1v1h-1zM34 2h2v1h-2zM37 2h1v1h-1zM64 2h1v1h-1zM2 3h1v1h-1zM12 3h1v1h-1zM16 3h1v1h-1zM20 3h1v1h-1zM24 3h1v1h-1zM28 3h1v1h-1zM40 3h1v1h-1zM50 3h1v1h-1zM74 3h1v1h-1zM2 4h1v1h-1zM4 4h1v1h-1zM11 4h1v1h-1zM15 4h1v1h-1zM27 4h1v1h-1zM41 4h1v1h-1zM49 4h1v1h-1zM66 4h1v1h-1zM75 4h1v1h-1zM77 4h1v1h-1zM4 5h1v1h-1zM15 5h1v1h-1zM22 5h1v1h-1zM34 5h1v1h-1zM46 5h1v1h-1zM49 5h1v1h-1zM53 5h1v1h-1zM58 5h1v1h-1zM62 5h1v1h-1zM66 5h1v1h-1zM68 5h1v1h-1zM70 5h1v1h-1zM72 5h1v1h-1zM76 5h1v1h-1zM4 6h1v1h-1zM15 6h1v1h-1zM19 6h1v1h-1zM23 6h1v1h-1zM51 6h1v1h-1zM56 6h1v1h-1zM60 6h1v1h-1zM63 6h1v1h-1zM68 6h1v1h-1zM72 6h1v1h-1zM4 7h1v1h-1zM15 7h1v1h-1zM19 7h1v1h-1zM28 7h1v1h-1zM32 7h1v1h-1zM40 7h1v1h-1zM72 7h2v1h-2zM72 8h1v1h-1zM53 9h1v1h-1zM70 10h1v1h-1z" fill="#fff" fill-opacity="0.5"/><path d="M35 0h1v1h-1zM1 1h1v1h-1zM4 1h1v1h-1zM7 1h1v1h-1zM9 1h1v1h-1zM12 1h1v1h-1zM17 1h1v1h-1zM19 1h1v1h-1zM24 1h1v1h-1zM26 1h2v1h-2zM31 1h1v1h-1zM35 1h1v1h-1zM37 1h1v1h-1zM41 1h2v1h-2zM64 1h1v1h-1zM1 2h1v1h-1zM4 2h2v1h-2zM7 2h1v1h-1zM9 2h1v1h-1zM11 2h2v1h-2zM19 2h1v1h-1zM24 2h1v1h-1zM30 2h1v1h-1zM38 2h1v1h-1zM41 2h1v1h-1zM57 2h1v1h-1zM63 2h1v1h-1zM65 2h1v1h-1zM1 3h1v1h-1zM4 3h1v1h-1zM9 3h1v1h-1zM11 3h1v1h-1zM14 3h1v1h-1zM17 3h1v1h-1zM19 3h1v1h-1zM23 3h1v1h-1zM27 3h1v1h-1zM30 3h1v1h-1zM34 3h1v1h-1zM38 3h1v1h-1zM41 3h1v1h-1zM48 3h1v1h-1zM76 3h1v1h-1zM1 4h1v1h-1zM5 4h1v1h-1zM20 4h1v1h-1zM23 4h1v1h-1zM28 4h3v1h-3zM34 4h1v1h-1zM38 4h3v1h-3zM48 4h1v1h-1zM50 4h1v1h-1zM67 4h1v1h-1zM69 4h1v1h-1zM71 4h1v1h-1zM1 5h2v1h-2zM5 5h1v1h-1zM14 5h1v1h-1zM19 5h2v1h-2zM23 5h1v1h-1zM33 5h1v1h-1zM40 5h1v1h-1zM47 5h1v1h-1zM50 5h1v1h-1zM54 5h1v1h-1zM57 5h1v1h-1zM61 5h1v1h-1zM64 5h1v1h-1zM67 5h1v1h-1zM71 5h1v1h-1zM77 5h1v1h-1zM1 6h2v1h-2zM5 6h1v1h-1zM14 6h1v1h-1zM20 6h1v1h-1zM22 6h1v1h-1zM28 6h1v1h-1zM33 6h1v1h-1zM40 6h1v1h-1zM53 6h2v1h-2zM58 6h1v1h-1zM62 6h1v1h-1zM65 6h3v1h-3zM69 6h1v1h-1zM71 6h1v1h-1zM76 6h2v1h-2zM1 7h2v1h-2zM5 7h1v1h-1zM14 7h1v1h-1zM20 7h1v1h-1zM22 7h1v1h-1zM29 7h1v1h-1zM33 7h1v1h-1zM39 7h1v1h-1zM50 7h1v1h-1zM53 7h2v1h-2zM57 7h2v1h-2zM61 7h1v1h-1zM64 7h1v1h-1zM69 7h1v1h-1zM76 7h1v1h-1zM71 8h1v1h-1zM52 9h1v1h-1zM69 9h1v1h-1zM71 9h1v1h-1zM69 10h1v1h-1z" fill="#fff" fill-opacity="0.75"/><path d="M13 1h1v1h-1zM18 1h1v1h-1zM14 2h1v1h-1zM17 2h1v1h-1zM27 2h1v1h-1zM5 3h4v1h-4zM49 3h1v1h-1zM75 3h1v1h-1zM12 4h3v1h-3zM17 4h3v1h-3zM47 4h1v1h-1zM70 4h1v1h-1zM76 4h1v1h-1zM28 5h2v1h-2zM39 5h1v1h-1zM69 5h1v1h-1zM29 6h1v1h-1zM39 6h1v1h-1zM47 6h4v1h-4zM57 6h1v1h-1zM61 6h1v1h-1zM64 6h1v1h-1zM51 7h2v1h-2zM55 7h2v1h-2zM59 7h2v1h-2zM62 7h2v1h-2zM65 7h2v1h-2zM70 7h2v1h-2zM74 7h2v1h-2zM70 9h1v1h-1z" fill="#fff" fill-opacity="1.0"/></g><path d="M522.5 425V429.5" stroke="#bcdcf8" stroke-width="1"/><path d="M703.64 434.06L704.23 433.84L704.75 433.71L705.80 431.50L706.85 433.71L707.37 433.84L707.69 433.95L708.27 434.21L708.73 434.48L711.03 433.67L710.22 435.97L710.49 436.43L710.64 436.74L710.86 437.33L710.99 437.85L713.20 438.90L710.99 439.95L710.86 440.47L710.75 440.79L710.49 441.37L710.22 441.83L711.03 444.13L708.73 443.32L708.27 443.59L707.96 443.74L707.37 443.96L706.85 444.09L705.80 446.30L704.75 444.09L704.23 443.96L703.91 443.85L703.33 443.59L702.87 443.32L700.57 444.13L701.38 441.83L701.11 441.37L700.96 441.06L700.74 440.47L700.61 439.95L698.40 438.90L700.61 437.85L700.74 437.33L700.85 437.01L701.11 436.43L701.38 435.97L700.57 433.67L702.87 434.48L703.33 434.21ZM709.70 438.9A3.9 3.9 0 1 0 701.90 438.9A3.9 3.9 0 1 0 709.70 438.9Z" fill="#4a4d58" fill-rule="evenodd"/></svg>
</body></html>
